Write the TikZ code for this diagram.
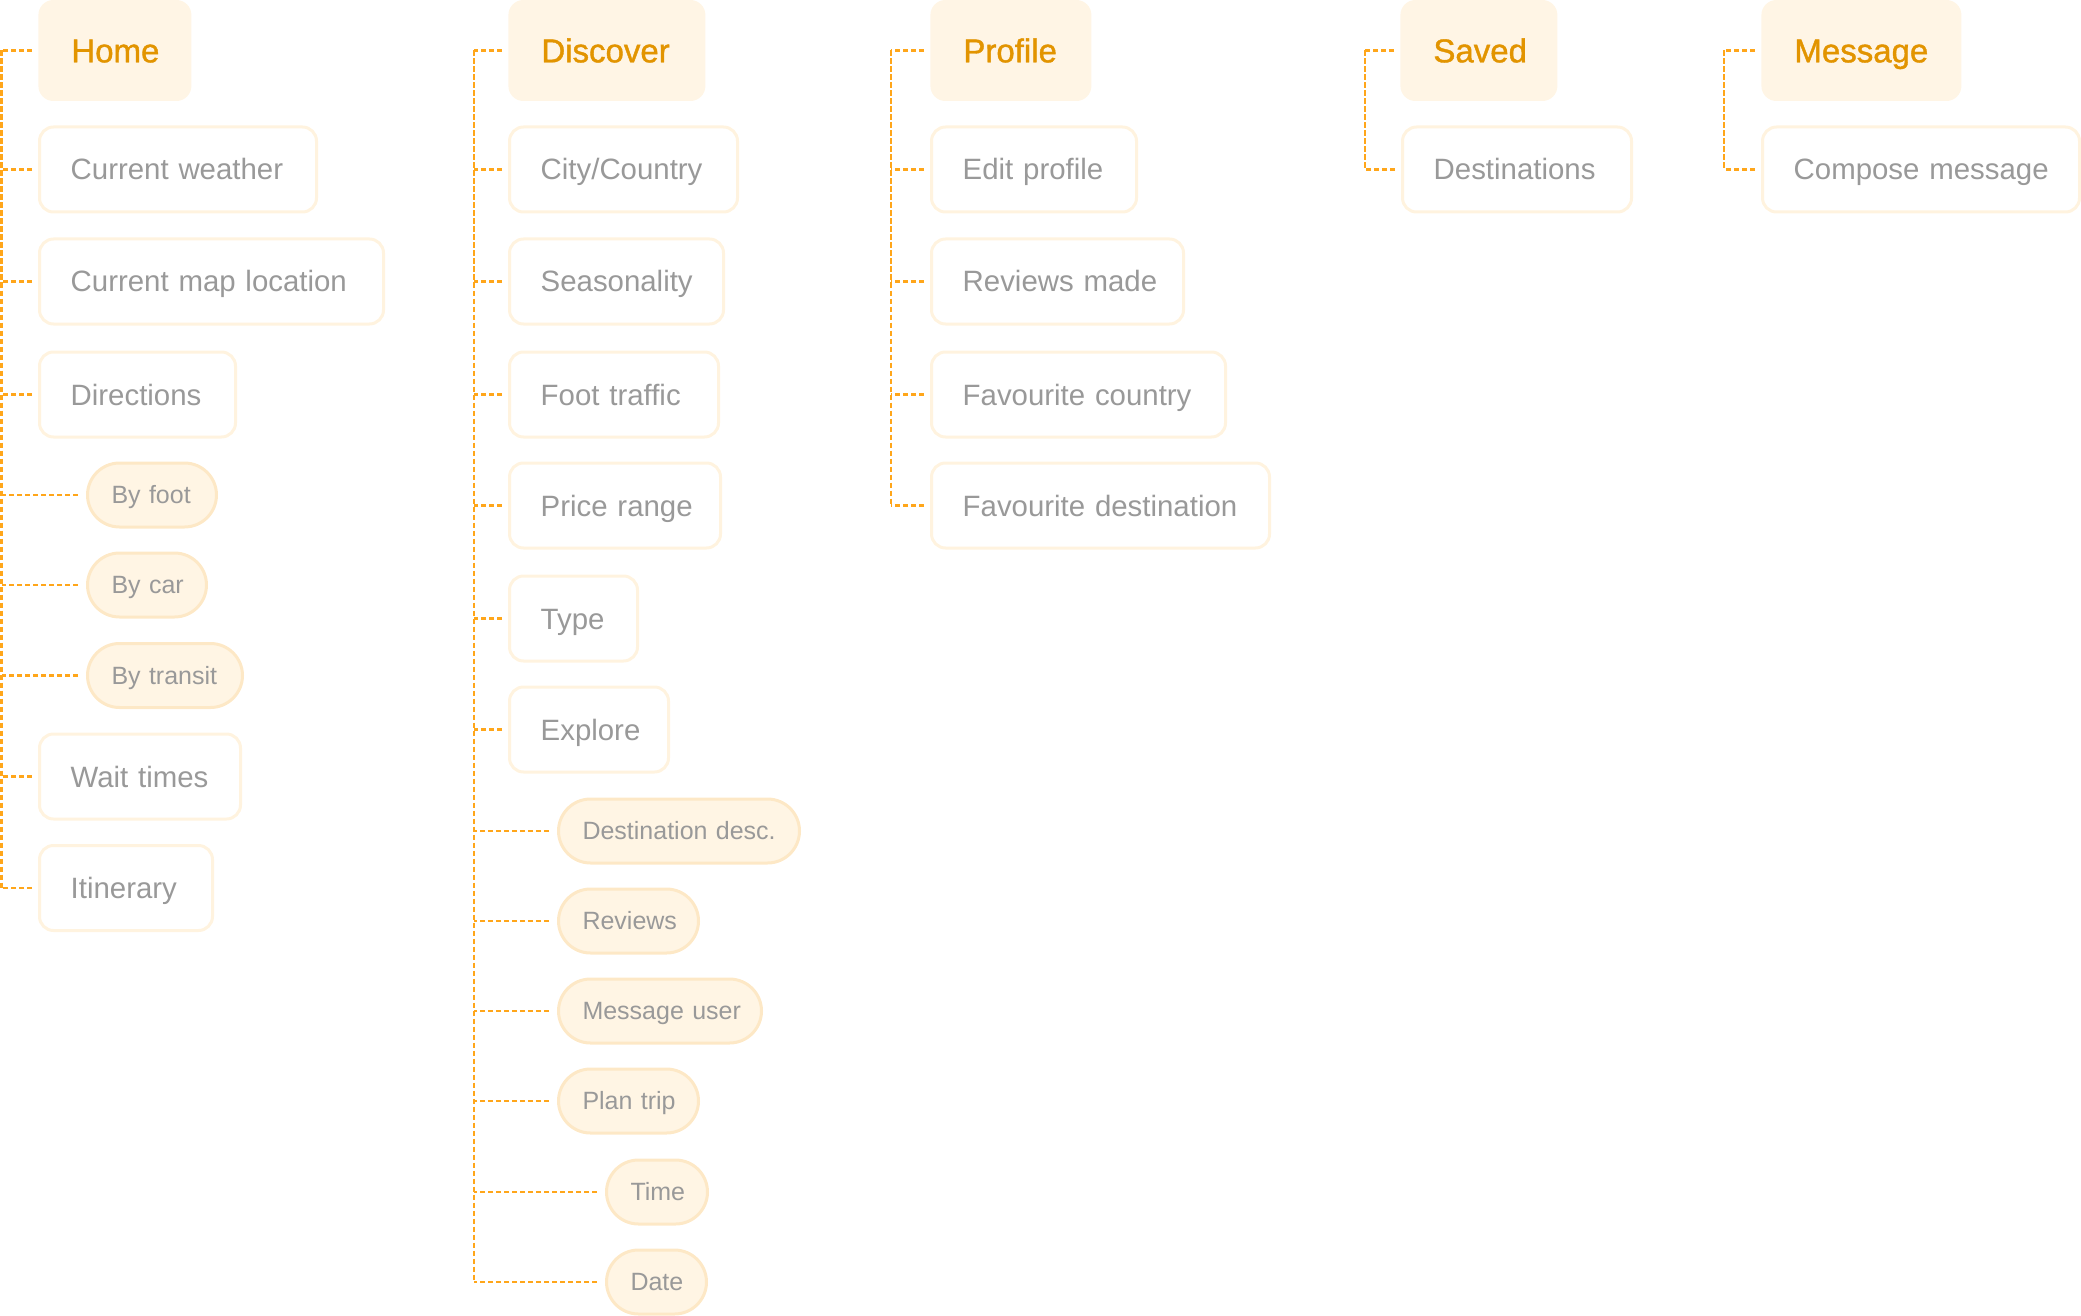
\documentclass[tikz,border=0pt]{standalone}
\usepackage{fontspec}
\newfontfamily\uifont{Liberation Sans}
\newfontfamily\hdfont[FakeBold=1.2]{Liberation Sans}
\definecolor{connc}{HTML}{FFA61A}
\definecolor{hdfill}{HTML}{FFF5E5}
\definecolor{hdtext}{HTML}{E29400}
\definecolor{bxborder}{HTML}{FFF3DF}
\definecolor{pillfill}{HTML}{FFF5E4}
\definecolor{pillborder}{HTML}{FDE8C6}
\definecolor{txtc}{HTML}{999999}
\tikzset{
  hdbox/.style={anchor=west, fill=hdfill, draw=none, rounded corners=7.5pt,
    minimum height=50.5pt, inner xsep=16.5pt, inner ysep=0pt,
    font=\hdfont\fontsize{16.5}{18}\selectfont, text=hdtext,
    text height=11.8pt, text depth=0pt},
  chbox/.style={anchor=west, fill=white, draw=bxborder, line width=1.5pt, rounded corners=7pt,
    minimum height=42.5pt, inner xsep=16.5pt, inner ysep=0pt,
    font=\uifont\fontsize{14.7}{17}\selectfont, text=txtc,
    text height=10.5pt, text depth=0pt, execute at begin node={\hspace*{-0.9pt}}},
  pill/.style={anchor=west, fill=pillfill, draw=pillborder, line width=1.5pt, rounded corners=16pt,
    minimum height=32pt, inner xsep=12pt, inner ysep=0pt,
    font=\uifont\fontsize{12.5}{14}\selectfont, text=txtc,
    text height=8.9pt, text depth=0pt},
  conn/.style={draw=connc, line width=1.2pt, dash pattern=on 2.6pt off 1.4pt},
}
\begin{document}
\begin{tikzpicture}[x=0.5pt,y=-0.5pt]
\useasboundingbox (0,0) rectangle (2081,1316);

% ---------- Home ----------
\coordinate (hv) at (1.5,0);
\node[hdbox, text width=43.5pt] (home) at (38,50.5) {\mbox{Home}};
\node[chbox, text width=105.5pt] (h1) at (38,169.5) {\mbox{Current weather}};
\node[chbox, text width=139pt] (h2) at (38,281.5) {\mbox{Current map location}};
\node[chbox, text width=65pt] (h3) at (38,394.5) {\mbox{Directions}};
\node[pill, text width=40.5pt] (h4) at (86,495) {\mbox{By foot}};
\node[pill, text width=35.5pt] (h5) at (86,585) {\mbox{By car}};
\node[pill, text width=53.5pt] (h6) at (86,675.5) {\mbox{By transit}};
\node[chbox, text width=67.5pt] (h7) at (38,776.5) {\mbox{Wait times}};
\node[chbox, text width=53.5pt] (h8) at (38,888) {\mbox{Itinerary}};
\draw[conn] (home.west -| hv) -- (h8.west -| hv);
\foreach \n in {home,h1,h2,h3,h7,h8} \draw[conn] ([xshift=-3pt]\n.west) -- (\n.west -| hv);
\foreach \n in {h4,h5,h6} \draw[conn] ([xshift=-4pt]\n.west) -- (\n.west -| hv);

% ---------- Discover ----------
\coordinate (dv) at (474,0);
\node[hdbox, text width=65.5pt] (disc) at (508,50.5) {\mbox{Discover}};
\node[chbox, text width=81pt] (d1) at (508,169.5) {\mbox{City/Country}};
\node[chbox, text width=74pt] (d2) at (508,281.5) {\mbox{Seasonality}};
\node[chbox, text width=71.5pt] (d3) at (508,394.5) {\mbox{Foot traffic}};
\node[chbox, text width=72.5pt] (d4) at (508,505.5) {\mbox{Price range}};
\node[chbox, text width=31pt] (d5) at (508,618.5) {\mbox{Type}};
\node[chbox, text width=46.5pt] (d6) at (508,729.5) {\mbox{Explore}};
\node[pill, text width=96.5pt] (d7) at (557,831) {\mbox{Destination desc.}};
\node[pill, text width=46pt] (d8) at (557,921) {\mbox{Reviews}};
\node[pill, text width=77.5pt] (d9) at (557,1011) {\mbox{Message user}};
\node[pill, text width=46pt] (d10) at (557,1101) {\mbox{Plan trip}};
\node[pill, text width=26.5pt] (d11) at (605,1192) {\mbox{Time}};
\node[pill, text width=26pt] (d12) at (605,1282) {\mbox{Date}};
\draw[conn] (disc.west -| dv) -- (d12.west -| dv);
\foreach \n in {disc,d1,d2,d3,d4,d5,d6} \draw[conn] ([xshift=-3pt]\n.west) -- (\n.west -| dv);
\foreach \n in {d7,d8,d9,d10,d11,d12} \draw[conn] ([xshift=-4pt]\n.west) -- (\n.west -| dv);

% ---------- Profile ----------
\coordinate (pv) at (891,0);
\node[hdbox, text width=47.5pt] (prof) at (930,50.5) {\mbox{Profile}};
\node[chbox, text width=69.5pt] (p1) at (930,169.5) {\mbox{Edit profile}};
\node[chbox, text width=93pt] (p2) at (930,281.5) {\mbox{Reviews made}};
\node[chbox, text width=114pt] (p3) at (930,394.5) {\mbox{Favourite country}};
\node[chbox, text width=136pt] (p4) at (930,505.5) {\mbox{Favourite destination}};
\draw[conn] (prof.west -| pv) -- (p4.west -| pv);
\foreach \n in {prof,p1,p2,p3,p4} \draw[conn] ([xshift=-3pt]\n.west) -- (\n.west -| pv);

% ---------- Saved ----------
\coordinate (sv) at (1365,0);
\node[hdbox, text width=45.5pt] (saved) at (1400,50.5) {\mbox{Saved}};
\node[chbox, text width=81.5pt] (s1) at (1401,169.5) {\mbox{Destinations}};
\draw[conn] (saved.west -| sv) -- (s1.west -| sv);
\foreach \n in {saved,s1} \draw[conn] ([xshift=-3pt]\n.west) -- (\n.west -| sv);

% ---------- Message ----------
\coordinate (mv) at (1724,0);
\node[hdbox, text width=67pt] (msg) at (1761,50.5) {\mbox{Message}};
\node[chbox, text width=125.5pt] (m1) at (1761,169.5) {\mbox{Compose message}};
\draw[conn] (msg.west -| mv) -- (m1.west -| mv);
\foreach \n in {msg,m1} \draw[conn] ([xshift=-3pt]\n.west) -- (\n.west -| mv);
\end{tikzpicture}
\end{document}
